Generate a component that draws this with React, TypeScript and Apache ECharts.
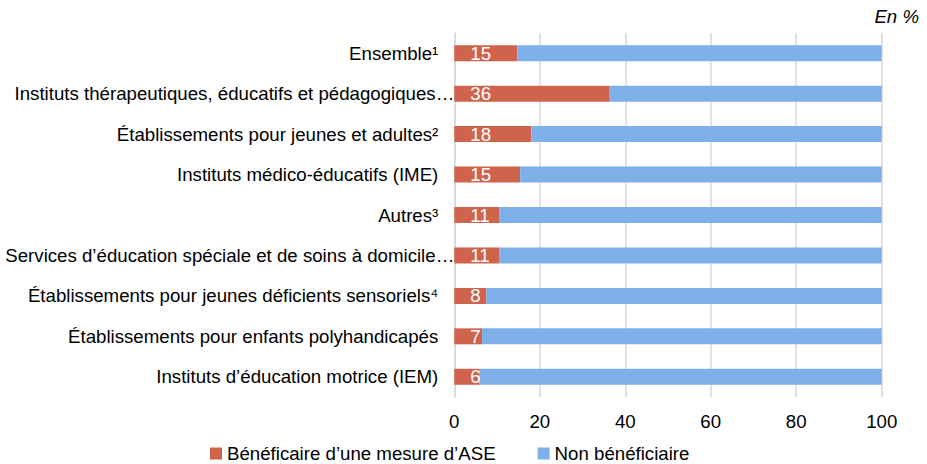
import React, { useEffect, useRef } from "react";
import * as echarts from "echarts";

const categories = [
  "Ensemble¹",
  "Instituts thérapeutiques, éducatifs et pédagogiques…",
  "Établissements pour jeunes et adultes²",
  "Instituts médico-éducatifs (IME)",
  "Autres³",
  "Services d’éducation spéciale et de soins à domicile…",
  "Établissements pour jeunes déficients sensoriels⁴",
  "Établissements pour enfants polyhandicapés",
  "Instituts d’éducation motrice (IEM)",
];
const beneficiaires = [14.8, 36.2, 18.0, 15.4, 10.6, 10.6, 7.5, 6.5, 5.9];
const nonBeneficiaires = beneficiaires.map((v) => Math.round((100 - v) * 10) / 10);
const xTicks = [0, 20, 40, 60, 80, 100];
const seriesNames = ["Bénéficaire d’une mesure d’ASE", "Non bénéficiaire"];

const FONT = "Liberation Sans, Arial, sans-serif";
const FS = 18.67;

export default function App() {
  const ref = useRef<HTMLDivElement>(null);
  useEffect(() => {
    if (!ref.current) return;
    const chart = echarts.init(ref.current, null, { renderer: "svg" });
    const longOnes = new Set([1, 5]);
    chart.setOption({
      animation: false,
      backgroundColor: "#ffffff",
      textStyle: { fontFamily: FONT },
      graphic: [
        {
          type: "text",
          right: 8,
          top: 7,
          style: {
            text: "En %",
            font: `italic ${FS}px ${FONT}`,
            fill: "#000000",
          },
        },
      ],
      legend: {
        left: 205,
        top: 439,
        itemWidth: 12,
        itemHeight: 12,
        itemGap: 42,
        icon: "rect",
        textStyle: { fontSize: FS, color: "#000000", fontFamily: FONT },
        data: seriesNames,
      },
      grid: { left: 454.3, right: 45.3, top: 33, bottom: 67, containLabel: false },
      xAxis: {
        type: "value",
        min: xTicks[0],
        max: xTicks[xTicks.length - 1],
        interval: 20,
        axisLine: { show: false },
        axisTick: { show: false },
        splitLine: { show: true, lineStyle: { color: "#d9d9d9", width: 1.5 } },
        axisLabel: { fontSize: FS, color: "#000000", margin: 15, fontFamily: FONT },
      },
      yAxis: {
        type: "category",
        inverse: true,
        data: categories.map((c, i) =>
          longOnes.has(i)
            ? { value: c, textStyle: { padding: [0, 0, 0, 0] } }
            : c
        ),
        axisLine: { show: true, lineStyle: { color: "#d9d9d9", width: 1.5 } },
        axisTick: { show: false },
        axisLabel: {
          fontSize: FS,
          color: "#000000",
          margin: 0,
          padding: [0, 16, 0, 0],
          fontFamily: FONT,
        },
      },
      series: [
        {
          name: seriesNames[0],
          type: "bar",
          stack: "total",
          barWidth: 16,
          data: beneficiaires,
          itemStyle: { color: "#D0634B" },
          label: {
            show: true,
            position: "insideLeft",
            distance: 16,
            color: "#ffffff",
            fontSize: FS,
            fontFamily: FONT,
            formatter: (p: any) => String(Math.round(p.value)),
          },
        },
        {
          name: seriesNames[1],
          type: "bar",
          stack: "total",
          barWidth: 16,
          data: nonBeneficiaires,
          itemStyle: { color: "#7DB0E8" },
        },
      ],
    });
    return () => chart.dispose();
  }, []);
  return (
    <div
      ref={ref}
      style={{ position: "fixed", left: 0, top: 0, width: 927, height: 464 }}
    />
  );
}
